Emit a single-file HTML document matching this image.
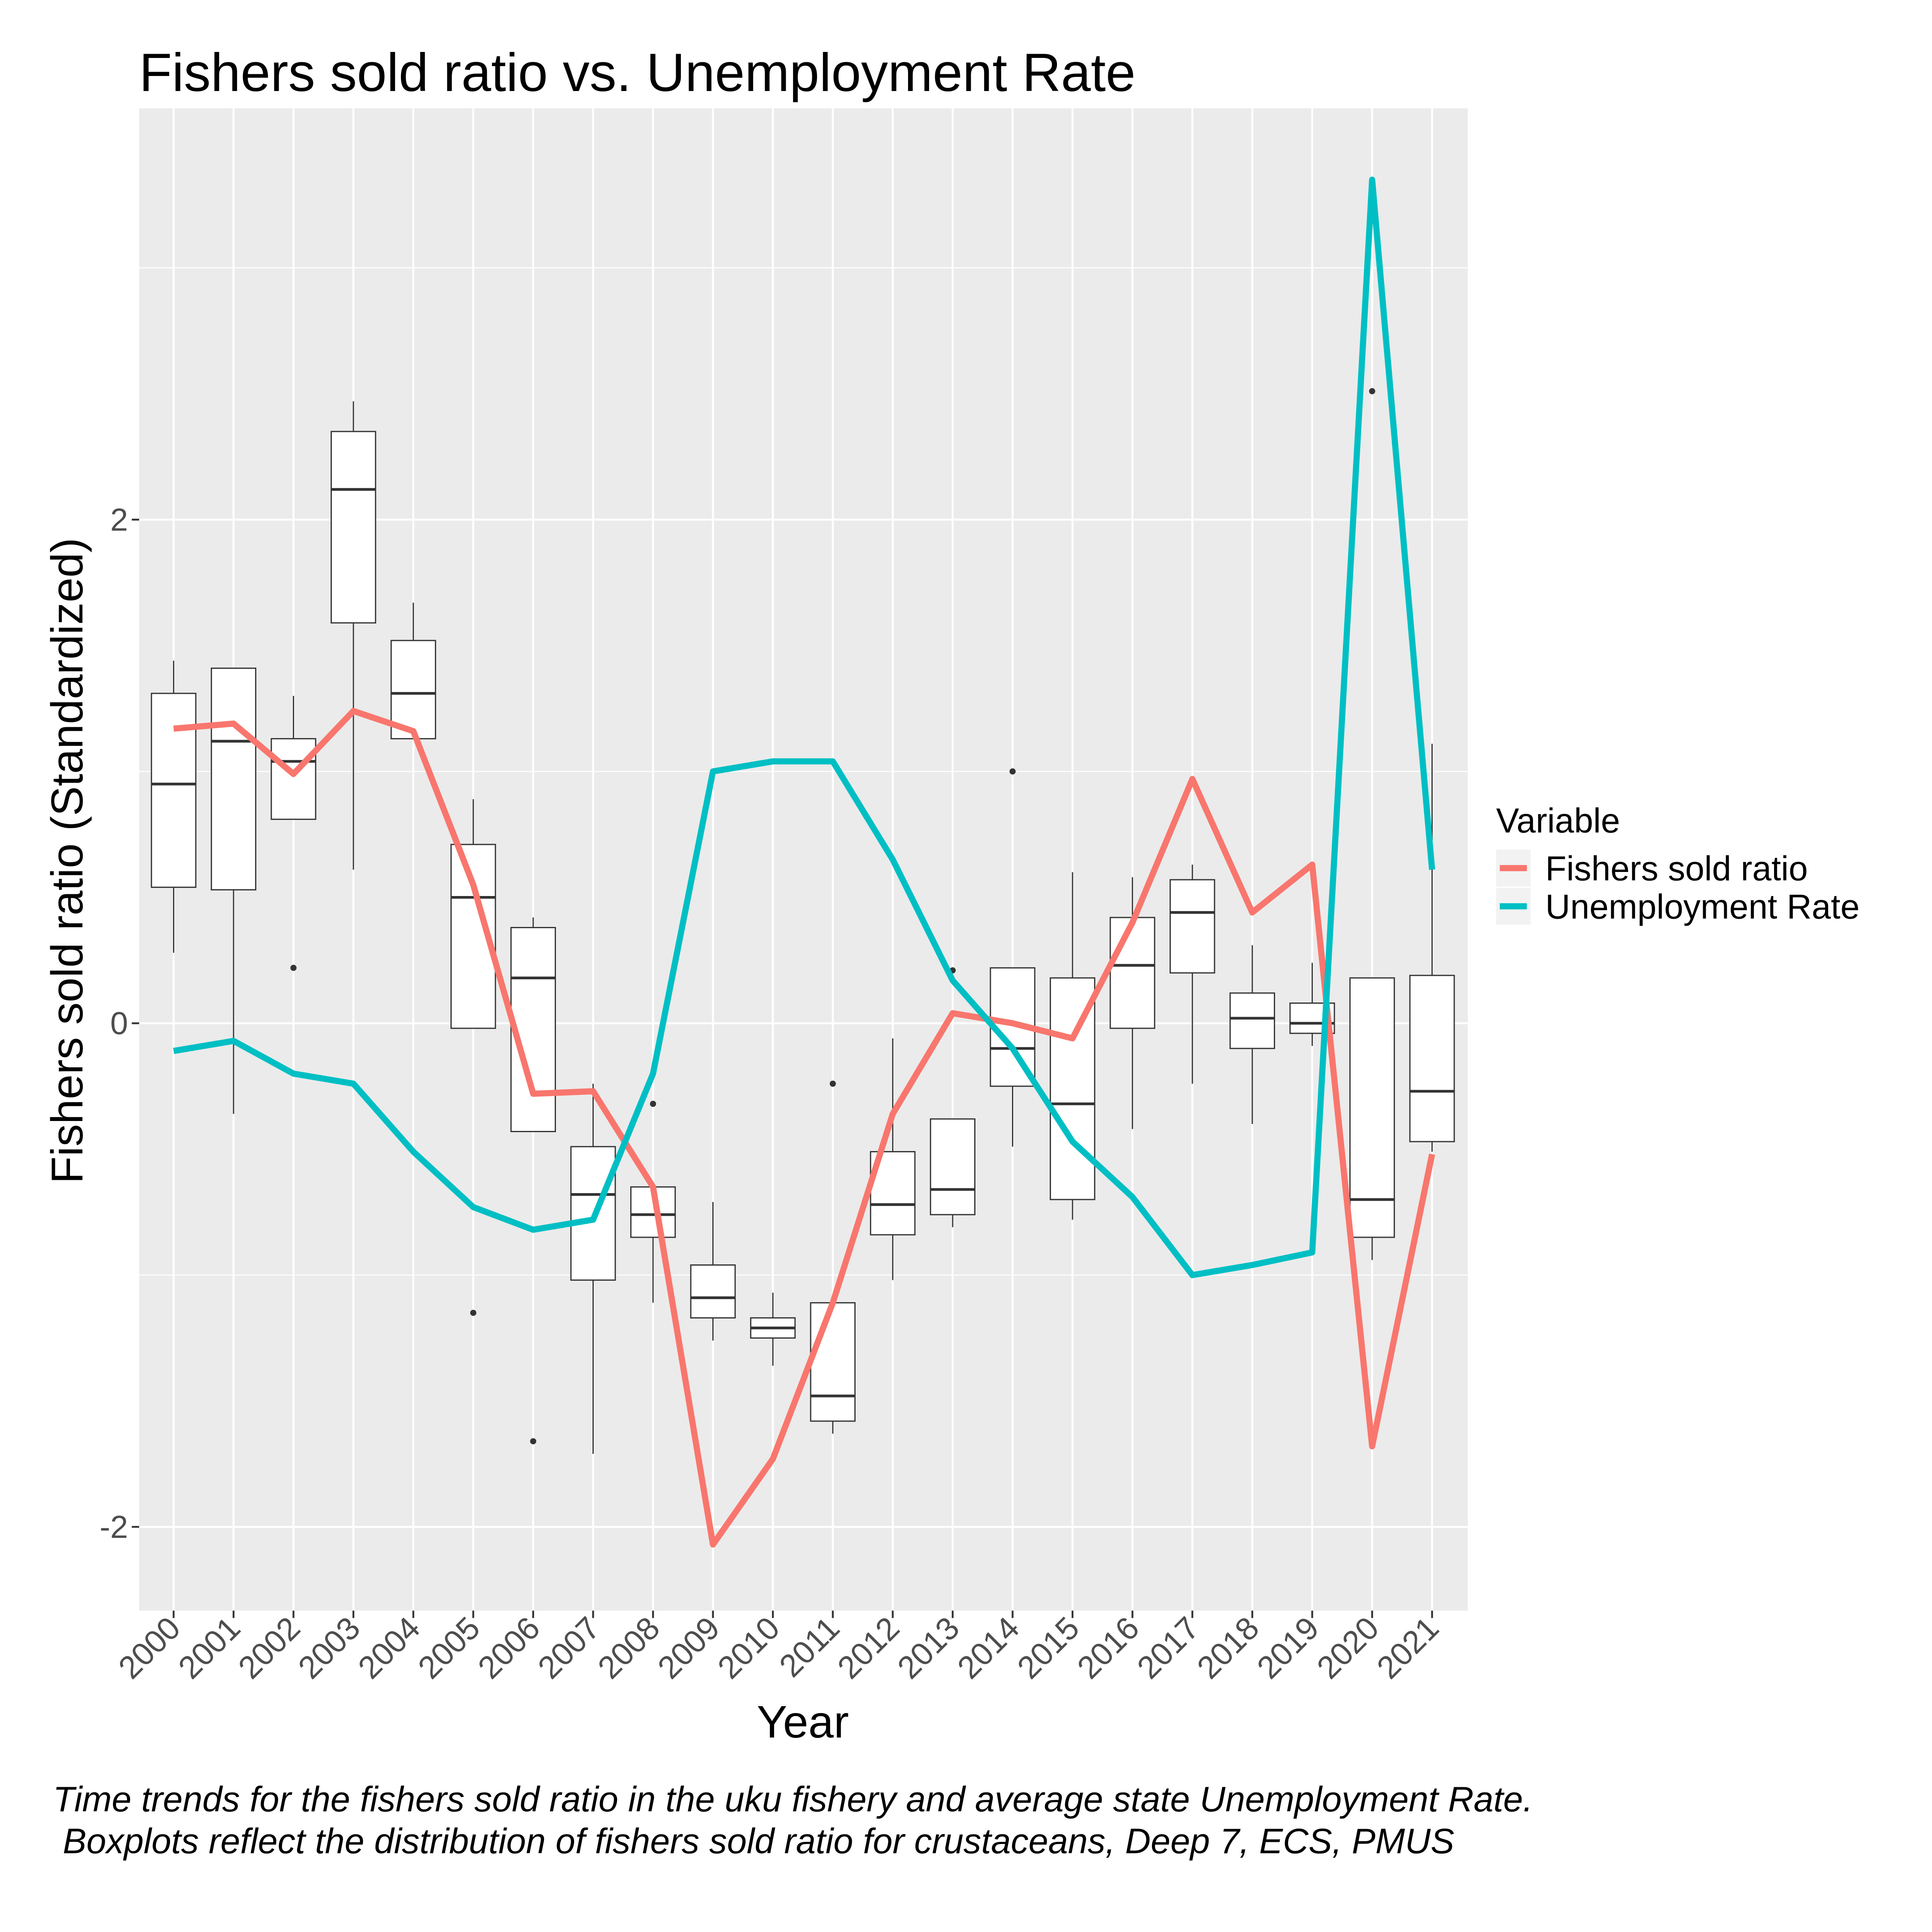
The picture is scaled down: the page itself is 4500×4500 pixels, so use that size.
<!DOCTYPE html>
<html><head><meta charset="utf-8"><style>
html,body{margin:0;padding:0;background:#fff}
svg{display:block;font-family:"Liberation Sans",Arial,sans-serif}
</style></head><body>
<svg id="chart" width="4500" height="4500" viewBox="0 0 1569 1569" xmlns="http://www.w3.org/2000/svg">
<rect x="0" y="0" width="1569" height="1569" fill="#fff"/>
<text x="113" y="74" font-size="43.6" fill="#000">Fishers sold ratio vs. Unemployment Rate</text>
<rect x="113" y="88" width="1079" height="1220" fill="#EBEBEB"/>
<g id="grid"></g>
<g id="boxes"></g>
<g id="lines"></g>
<g id="axes"></g>
<text transform="translate(67,699) rotate(-90)" text-anchor="middle" font-size="36.3">Fishers sold ratio (Standardized)</text>
<text x="652" y="1411" text-anchor="middle" font-size="37">Year</text>
<g>
<text x="1215" y="676" font-size="28">Variable</text>
<rect x="1215" y="690" width="28" height="30" fill="#F2F2F2"/>
<line x1="1218" y1="705" x2="1240" y2="705" stroke="#F8766D" stroke-width="5"/>
<text x="1255" y="715" font-size="28">Fishers sold ratio</text>
<rect x="1215" y="721" width="28" height="30" fill="#F2F2F2"/>
<line x1="1218" y1="736" x2="1240" y2="736" stroke="#00BFC4" stroke-width="5"/>
<text x="1255" y="746" font-size="28">Unemployment Rate</text>
</g>
<text x="43" y="1471" font-size="28.8" font-style="italic">Time trends for the fishers sold ratio in the uku fishery and average state Unemployment Rate.</text>
<text x="43" y="1505" font-size="28.8" font-style="italic" xml:space="preserve"> Boxplots reflect the distribution of fishers sold ratio for crustaceans, Deep 7, ECS, PMUS</text>
</svg>
<script>
const years=[2000,2001,2002,2003,2004,2005,2006,2007,2008,2009,2010,2011,2012,2013,2014,2015,2016,2017,2018,2019,2020,2021];
const boxLow=[0.28,-0.36,0.81,0.61,1.13,-0.02,-0.43,-1.71,-1.11,-1.26,-1.36,-1.63,-1.02,-0.81,-0.49,-0.78,-0.42,-0.24,-0.40,-0.09,-0.94,-0.51];
const boxQ1=[0.54,0.53,0.81,1.59,1.13,-0.02,-0.43,-1.02,-0.85,-1.17,-1.25,-1.58,-0.84,-0.76,-0.25,-0.70,-0.02,0.20,-0.10,-0.04,-0.85,-0.47];
const boxMed=[0.95,1.12,1.04,2.12,1.31,0.50,0.18,-0.68,-0.76,-1.09,-1.21,-1.48,-0.72,-0.66,-0.10,-0.32,0.23,0.44,0.02,0.00,-0.70,-0.27];
const boxQ3=[1.31,1.41,1.13,2.35,1.52,0.71,0.38,-0.49,-0.65,-0.96,-1.17,-1.11,-0.51,-0.38,0.22,0.18,0.42,0.57,0.12,0.08,0.18,0.19];
const boxHigh=[1.44,1.41,1.30,2.47,1.67,0.89,0.42,-0.24,-0.65,-0.71,-1.07,-1.11,-0.06,-0.38,0.22,0.60,0.58,0.63,0.31,0.24,0.18,1.11];
const outlierYears=[2002,2005,2006,2008,2011,2013,2014,2020];
const outlierVals=[0.22,-1.15,-1.66,-0.32,-0.24,0.21,1.00,2.51];
const fishers=[1.17,1.19,0.99,1.24,1.16,0.55,-0.28,-0.27,-0.65,-2.07,-1.73,-1.11,-0.36,0.04,0.00,-0.06,0.40,0.97,0.44,0.63,-1.68,-0.52];
const unemp=[-0.11,-0.07,-0.20,-0.24,-0.51,-0.73,-0.82,-0.78,-0.20,1.00,1.04,1.04,0.65,0.17,-0.10,-0.47,-0.69,-1.00,-0.96,-0.91,3.35,0.61];
const yTicks=[-2,0,2];
const yMinor=[-1,1,3];
const NS="http://www.w3.org/2000/svg";
const X=y=>141+(y-2000)*(1022/21);
const Y=v=>831-v*204.5;
function mk(tag,attrs,parent){const e=document.createElementNS(NS,tag);for(const k in attrs)e.setAttribute(k,attrs[k]);parent.appendChild(e);return e;}
const grid=document.getElementById('grid'),boxes=document.getElementById('boxes'),lines=document.getElementById('lines'),axes=document.getElementById('axes');
yMinor.forEach(v=>{const l=mk('line',{x1:113,x2:1192,y1:Y(v),y2:Y(v),stroke:'#fff','stroke-width':0.8},grid);

});
yTicks.forEach(v=>{const l=mk('line',{x1:113,x2:1192,y1:Y(v),y2:Y(v),stroke:'#fff','stroke-width':1.6},grid);


const t=mk('line',{x1:107,x2:113,y1:Y(v),y2:Y(v),stroke:'#333','stroke-width':1.5},axes);


const tx=mk('text',{x:104,y:Y(v)+9,'text-anchor':'end','font-size':26,fill:'#4D4D4D'},axes);tx.textContent=v;

});
years.forEach((yr,i)=>{const x=X(yr);
const g=mk('line',{x1:x,x2:x,y1:88,y2:1308,stroke:'#fff','stroke-width':1.6},grid);


const t=mk('line',{x1:x,x2:x,y1:1308,y2:1314,stroke:'#333','stroke-width':1.5},axes);


const tx=mk('text',{transform:`translate(${x+7},${1324}) rotate(-45)`,'text-anchor':'end','font-size':26,fill:'#4D4D4D'},axes);tx.textContent=yr;


const bg=mk('g',{},boxes);


const w=18;
mk('line',{x1:x,x2:x,y1:Y(boxHigh[i]),y2:Y(boxQ3[i]),stroke:'#333','stroke-width':1},bg);
mk('line',{x1:x,x2:x,y1:Y(boxQ1[i]),y2:Y(boxLow[i]),stroke:'#333','stroke-width':1},bg);
mk('rect',{x:x-w,y:Y(boxQ3[i]),width:2*w,height:Math.max(0.5,Y(boxQ1[i])-Y(boxQ3[i])),fill:'#fff',stroke:'#333','stroke-width':1},bg);
mk('line',{x1:x-w,x2:x+w,y1:Y(boxMed[i]),y2:Y(boxMed[i]),stroke:'#333','stroke-width':2.2},bg);});
outlierYears.forEach((yr,i)=>{const c=mk('circle',{cx:X(yr),cy:Y(outlierVals[i]),r:2.5,fill:'#333'},boxes);

});
function series(vals,color,name){const p=mk('polyline',{points:vals.map((v,i)=>X(years[i])+','+Y(v)).join(' '),fill:'none',stroke:color,'stroke-width':5,'stroke-linejoin':'round'},lines);

}
series(fishers,'#F8766D','fishers-sold-ratio-line');
series(unemp,'#00BFC4','unemployment-rate-line');
</script>
</body></html>
